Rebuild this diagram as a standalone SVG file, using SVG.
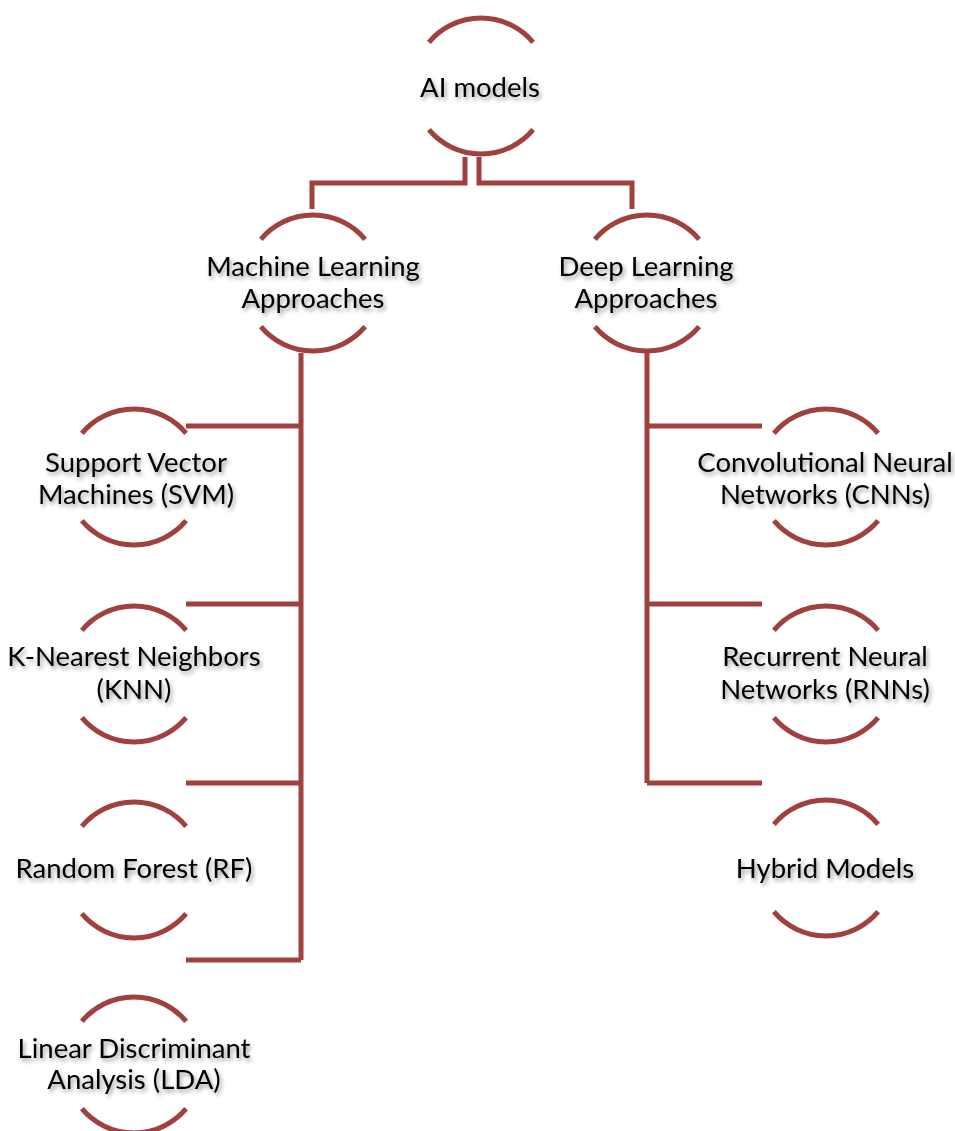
<svg xmlns="http://www.w3.org/2000/svg" width="955" height="1131" viewBox="0 0 955 1131">
<defs>
<filter id="sh" x="-20%" y="-50%" width="140%" height="200%">
<feGaussianBlur in="SourceAlpha" stdDeviation="2"/>
<feOffset dx="2" dy="3" result="b"/>
<feComponentTransfer><feFuncA type="linear" slope="0.4"/></feComponentTransfer>
<feMerge><feMergeNode/><feMergeNode in="SourceGraphic"/></feMerge>
</filter>
<path id="arcs" d="M-52.1,-43.7 A68,68 0 0 1 52.1,-43.7 M-52.1,43.7 A68,68 0 0 0 52.1,43.7"/>
</defs>
<style>
.arc{fill:none;stroke:#A0403F;stroke-width:5}
.con{fill:none;stroke:#A0403F;stroke-width:5}
text{font-family:Lato,"Liberation Sans",sans-serif;font-size:27.5px;fill:#000;text-anchor:middle;filter:url(#sh)}
</style>
<rect width="955" height="1131" fill="#fff"/>
<g id="connectors" class="con">
<path d="M465,157 V183 H312 V209"/>
<path d="M479,157 V183 H632 V209"/>
<path d="M301,353 V960"/>
<path d="M301,426 H186"/>
<path d="M301,604 H186"/>
<path d="M301,783 H186"/>
<path d="M301,960 H186"/>
<path d="M647,353 V783"/>
<path d="M647,426 H762"/>
<path d="M647,604 H762"/>
<path d="M647,783 H762"/>
</g>
<g id="ai"><use href="#arcs" class="arc" transform="translate(481,86)"/><text x="480" y="97">AI models</text></g>
<g id="ml"><use href="#arcs" class="arc" transform="translate(313,283)"/><text x="313" y="276">Machine Learning</text><text x="313" y="308">Approaches</text></g>
<g id="dl"><use href="#arcs" class="arc" transform="translate(647,283)"/><text x="646" y="276">Deep Learning</text><text x="646" y="308">Approaches</text></g>
<g id="svm"><use href="#arcs" class="arc" transform="translate(134,477)"/><text x="136" y="472">Support Vector</text><text x="136" y="504">Machines (SVM)</text></g>
<g id="knn"><use href="#arcs" class="arc" transform="translate(134,674)"/><text x="134" y="666">K-Nearest Neighbors</text><text x="134" y="699">(KNN)</text></g>
<g id="rf"><use href="#arcs" class="arc" transform="translate(134,870)"/><text x="134" y="878">Random Forest (RF)</text></g>
<g id="lda"><use href="#arcs" class="arc" transform="translate(134,1065)"/><text x="134" y="1058">Linear Discriminant</text><text x="134" y="1089">Analysis (LDA)</text></g>
<g id="cnn"><use href="#arcs" class="arc" transform="translate(826,477)"/><text x="825" y="472">Convolutional Neural</text><text x="825" y="504">Networks (CNNs)</text></g>
<g id="rnn"><use href="#arcs" class="arc" transform="translate(826,674)"/><text x="825" y="666">Recurrent Neural</text><text x="825" y="699">Networks (RNNs)</text></g>
<g id="hybrid"><use href="#arcs" class="arc" transform="translate(826,868)"/><text x="825" y="878">Hybrid Models</text></g>
</svg>
